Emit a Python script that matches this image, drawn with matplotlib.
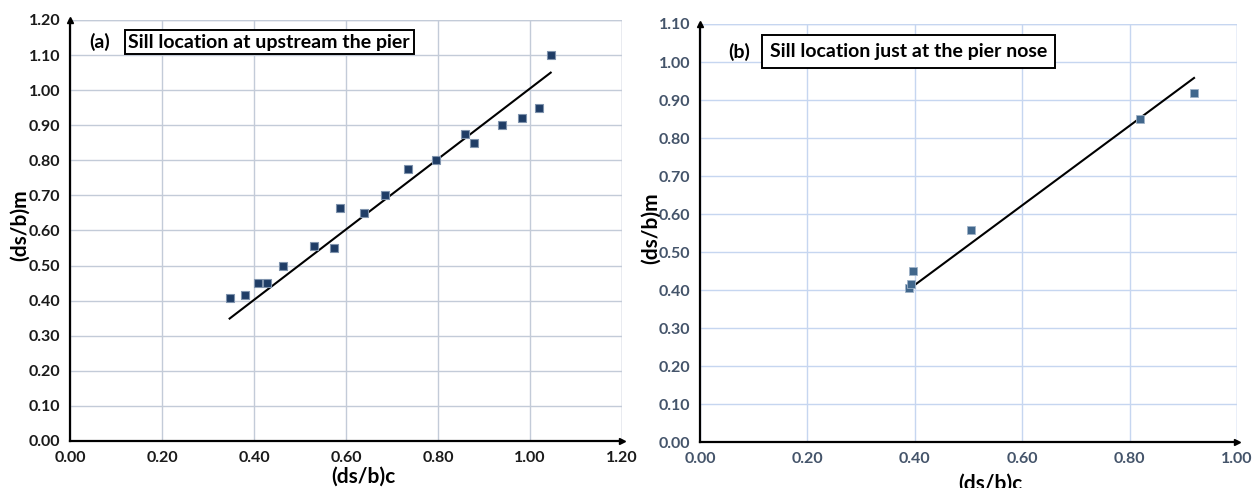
"""Measured vs computed scour depth, two sill locations."""
import matplotlib.pyplot as plt

plt.rcParams.update({
    "font.family": ["Lato", "DejaVu Sans"],
    "font.weight": "bold",
})

# panel (a): sill upstream the pier
a_x = [0.347, 0.380, 0.409, 0.429, 0.463, 0.530, 0.574, 0.588, 0.639, 0.684,
       0.735, 0.795, 0.858, 0.878, 0.940, 0.982, 1.020, 1.045]
a_y = [0.407, 0.415, 0.450, 0.450, 0.500, 0.555, 0.550, 0.665, 0.650, 0.700,
       0.775, 0.800, 0.875, 0.850, 0.900, 0.920, 0.950, 1.100]
a_fit_x = [0.347, 1.045]
a_fit_y = [0.349, 1.050]

# panel (b): sill just at the pier nose
b_x = [0.390, 0.393, 0.397, 0.505, 0.820, 0.920]
b_y = [0.405, 0.415, 0.450, 0.557, 0.850, 0.918]
b_fit_x = [0.392, 0.920]
b_fit_y = [0.405, 0.958]

A_TICKS_X = [0.0, 0.2, 0.4, 0.6, 0.8, 1.0, 1.2]
A_TICKS_Y = [i / 10 for i in range(13)]
B_TICKS_X = [0.0, 0.2, 0.4, 0.6, 0.8, 1.0]
B_TICKS_Y = [i / 10 for i in range(12)]


def style_axes(ax, xt, yt, grid_col, tick_col):
    ax.set_xlim(xt[0], xt[-1])
    ax.set_ylim(yt[0], yt[-1])
    ax.set_xticks(xt)
    ax.set_yticks(yt)
    ax.set_xticklabels([f"{v:.2f}" for v in xt])
    ax.set_yticklabels([f"{v:.2f}" for v in yt])
    ax.tick_params(length=0, labelsize=11.5, colors=tick_col, pad=7)
    for lab in ax.get_xticklabels() + ax.get_yticklabels():
        lab.set_fontweight("bold")
    ax.grid(True, color=grid_col, linewidth=1.0)
    ax.set_axisbelow(True)
    for s in ("top", "right"):
        ax.spines[s].set_visible(False)
    for s in ("left", "bottom"):
        ax.spines[s].set_linewidth(1.6)
        ax.spines[s].set_color("black")
    # top / right edges drawn as gridlines
    ax.axhline(yt[-1], color=grid_col, linewidth=1.0, zorder=0)
    ax.axvline(xt[-1], color=grid_col, linewidth=1.0, zorder=0)
    ax.plot(1, 0, ">k", ms=4, transform=ax.get_yaxis_transform(), clip_on=False)
    ax.plot(0, 1, "^k", ms=4, transform=ax.get_xaxis_transform(), clip_on=False)


fig = plt.figure(figsize=(12.55, 4.88), dpi=100)

ax1 = fig.add_axes([70 / 1255, 47 / 488, 552 / 1255, 421 / 488])
style_axes(ax1, A_TICKS_X, A_TICKS_Y, "#c3cbd8", "#1a1a1a")
ax1.plot(a_fit_x, a_fit_y, color="black", linewidth=1.5, zorder=2)
ax1.plot(a_x, a_y, "s", ms=6.3, color="#1f3d66", mec="#7f93ad", mew=0.8,
         zorder=3, clip_on=False)
ax1.text(0.042, 1.137, "(a)", fontsize=14, fontweight="bold", va="center")
ax1.text(0.127, 1.137, "Sill location at upstream the pier", fontsize=14,
         fontweight="bold", va="center",
         bbox=dict(boxstyle="square,pad=0.2", fc="white", ec="black", lw=1.4))

ax2 = fig.add_axes([700 / 1255, 46 / 488, 537 / 1255, 418 / 488])
style_axes(ax2, B_TICKS_X, B_TICKS_Y, "#c6d6f0", "#44546a")
ax2.plot(b_fit_x, b_fit_y, color="black", linewidth=1.5, zorder=2)
ax2.plot(b_x, b_y, "s", ms=6.3, color="#41678c", mec="#9fb3c8", mew=0.6,
         zorder=3, clip_on=False)
ax2.text(0.053, 1.027, "(b)", fontsize=14, fontweight="bold", va="center")
ax2.text(0.13, 1.027, "Sill location just at the pier nose", fontsize=14,
         fontweight="bold", va="center",
         bbox=dict(boxstyle="square,pad=0.4", fc="white", ec="black", lw=1.4))

fig.text(20 / 1255, 1 - 225 / 488, "(ds/b)m", rotation=90, fontsize=15,
         fontweight="bold", ha="center", va="center")
fig.text(363 / 1255, 1 - 477 / 488, "(ds/b)c", fontsize=15,
         fontweight="bold", ha="center", va="center")
fig.text(651 / 1255, 1 - 228 / 488, "(ds/b)m", rotation=90, fontsize=15,
         fontweight="bold", ha="center", va="center")
fig.text(990 / 1255, 1 - 484 / 488, "(ds/b)c", fontsize=15,
         fontweight="bold", ha="center", va="center")

fig.savefig("out.png", dpi=100)
